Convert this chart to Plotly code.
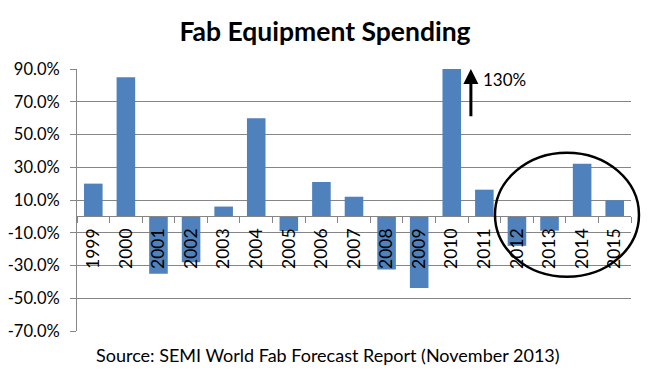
import plotly.graph_objects as go

years = [str(y) for y in range(1999, 2016)]
growth_pct = [20, 85, -35, -28, 6, 60, -9, 21, 12, -32.5, -43.7, 130, 16.3, -18, -8.7, 32.2, 9.8]
y_tickvals = [-70, -50, -30, -10, 10, 30, 50, 70, 90]
y_ticktext = ["-70.0%", "-50.0%", "-30.0%", "-10.0%", "10.0%", "30.0%", "50.0%", "70.0%", "90.0%"]
title_text = "Fab Equipment Spending"
source_text = "Source: SEMI World Fab Forecast Report (November 2013)"
callout_text = "130%"

FONT = "Lato"
GRID = "#868686"
y_min, y_max = -70, 90
W, H = 642, 372  # page body adds an 8px offset

fig = go.Figure(go.Bar(x=years, y=growth_pct, marker=dict(color="#4F81BD", line=dict(width=0))))

fig.update_layout(
    width=W, height=H,
    margin=dict(l=69, r=19, t=61, b=49),
    paper_bgcolor="white", plot_bgcolor="white",
    bargap=0.43,
    showlegend=False,
    font=dict(family=FONT, size=17, color="black"),
    title=dict(text="<b>" + title_text + "</b>", x=(325 - 8) / W, xanchor="center",
               y=1 - 24 / H, yref="container", yanchor="middle",
               font=dict(family=FONT, size=26.5, color="black")),
)

zero_pos = (0 - y_min) / (y_max - y_min)
fig.update_xaxes(
    type="category", anchor="free", position=zero_pos, automargin=False,
    showline=True, linecolor=GRID, linewidth=1,
    ticks="outside", tickson="boundaries", ticklen=6, tickcolor=GRID,
    tickangle=-90, showgrid=False, zeroline=False, ticklabelstandoff=4,
    tickfont=dict(family=FONT, size=17.5, color="black"),
)
fig.update_yaxes(
    range=[y_min, y_max], tickvals=y_tickvals, ticktext=y_ticktext, automargin=False,
    showgrid=True, gridcolor=GRID, gridwidth=1,
    showline=True, linecolor=GRID, linewidth=1,
    ticks="outside", ticklen=6, tickcolor=GRID, ticklabelstandoff=7,
    zeroline=False, tickfont=dict(family=FONT, size=16.5, color="black"),
)

fig.add_annotation(text=source_text, xref="paper", yref="paper", x=0.453, y=-0.092,
                   xanchor="center", yanchor="middle", showarrow=False,
                   font=dict(family=FONT, size=18, color="black"))

# arrow callout for the clipped 2010 bar
fig.add_annotation(x=0.711, y=y_max, xref="x domain", yref="y",
                   ax=0.711, ay=60.3, axref="x domain", ayref="y",
                   text="", showarrow=True, arrowhead=2, arrowsize=1, arrowwidth=3,
                   arrowcolor="black")
fig.add_annotation(text=callout_text, xref="paper", yref="y", x=0.73, y=83.5,
                   xanchor="left", yanchor="middle", showarrow=False,
                   font=dict(family=FONT, size=17, color="black"))

fig.add_shape(type="circle", xref="paper", yref="paper",
              x0=0.7545, x1=1.0144, y0=0.207, y1=0.6805,
              line=dict(color="black", width=2.5))

fig.write_html("out.html")
